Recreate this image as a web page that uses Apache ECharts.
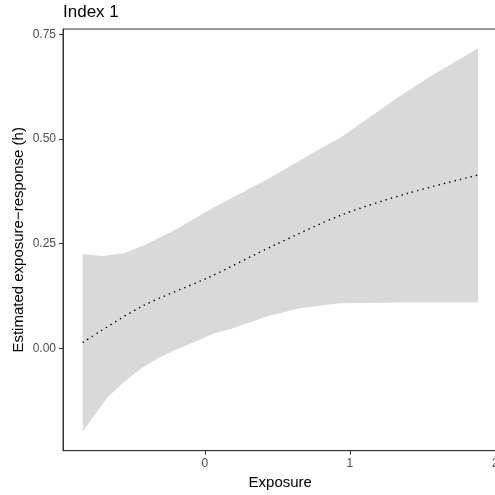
<!DOCTYPE html>
<html>
<head>
<meta charset="utf-8">
<script src="https://cdn.jsdelivr.net/npm/echarts@6/dist/echarts.min.js"></script>
<style>html,body{margin:0;padding:0;background:#fff}#c{width:495px;height:495px}</style>
</head>
<body>
<div id="c"></div>
<script>
// Upper confidence band edge
const upperX = [-0.841,-0.703,-0.552,-0.414,-0.207,0.069,0.159,0.448,0.779,0.931,1.207,1.345,1.552,1.883];
const upperY = [0.2254,0.2206,0.2278,0.2469,0.2827,0.3377,0.3545,0.4070,0.4740,0.5026,0.5696,0.6030,0.6496,0.7170];
// Lower confidence band edge
const lowerX = [-0.841,-0.759,-0.669,-0.552,-0.437,-0.322,-0.207,-0.092,0.069,0.195,0.426,0.655,0.931,1.345,1.883];
const lowerY = [-0.1993,-0.1594,-0.1164,-0.0798,-0.0478,-0.0239,-0.0041,0.0120,0.0359,0.0478,0.0755,0.0956,0.1076,0.1095,0.1099];
// Estimated exposure-response
const estX = [-0.841,-0.437,0.023,0.483,0.943,1.402,1.883];
const estY = [0.0134,0.0994,0.1687,0.2469,0.3186,0.3705,0.4140];
// Ticks
const xTicks = [0,1,2];
const yTicks = [0,0.25,0.5,0.75];

const chart = echarts.init(document.getElementById('c'), null, {renderer:'canvas'});
const font = 'Liberation Sans, Arial, Helvetica, sans-serif';
chart.setOption({
  animation:false,
  backgroundColor:'#fff',
  title:{text:'Index 1', left:58, top:-1, textStyle:{fontFamily:font, fontSize:17, fontWeight:'normal', color:'#000'}},
  grid:{left:63, right:-2.5, top:29, bottom:44.3, outerBoundsMode:'none', containLabel:false,
    show:true, borderColor:'#333', borderWidth:1, backgroundColor:'transparent'},
  xAxis:{type:'value', min:-0.977, max:2.017,
    name:'Exposure', nameLocation:'middle', nameGap:25, nameMoveOverlap:false,
    nameTextStyle:{fontFamily:font, fontSize:15, color:'#000'},
    axisLine:{show:true, onZero:false, lineStyle:{color:'#333', width:1}},
    axisTick:{show:true, length:4, customValues:xTicks, lineStyle:{color:'#333'}},
    axisLabel:{customValues:xTicks, margin:7, fontFamily:font, fontSize:12, color:'#4d4d4d', formatter:v=>String(v), hideOverlap:false},
    splitLine:{show:false}},
  yAxis:{type:'value', min:-0.245, max:0.763,
    name:'Estimated exposure\u2212response (h)', nameLocation:'middle', nameGap:37, nameRotate:90, nameMoveOverlap:false,
    nameTextStyle:{fontFamily:font, fontSize:15, color:'#000'},
    axisLine:{show:true, onZero:false, lineStyle:{color:'#333', width:1}},
    axisTick:{show:true, length:4, customValues:yTicks, lineStyle:{color:'#333'}},
    axisLabel:{customValues:yTicks, margin:7, fontFamily:font, fontSize:12, color:'#4d4d4d', formatter:v=>v.toFixed(2)},
    splitLine:{show:false}},
  series:[
    {type:'custom', data:[[upperX[0], upperY[0]]], z:1, silent:true,
      renderItem:function(params, api){
        const pts = [];
        for (let i=0;i<upperX.length;i++) pts.push(api.coord([upperX[i], upperY[i]]));
        for (let i=lowerX.length-1;i>=0;i--) pts.push(api.coord([lowerX[i], lowerY[i]]));
        return {type:'polygon', shape:{points:pts}, style:{fill:'#d9d9d9', stroke:null}};
      }},
    {type:'line', data:estX.map((x,i)=>[x, estY[i]]), showSymbol:false, smooth:0.3, z:2,
      lineStyle:{color:'#000', width:1.4, type:[1.4,4.1], cap:'butt'}}
  ]
});
</script>
</body>
</html>
